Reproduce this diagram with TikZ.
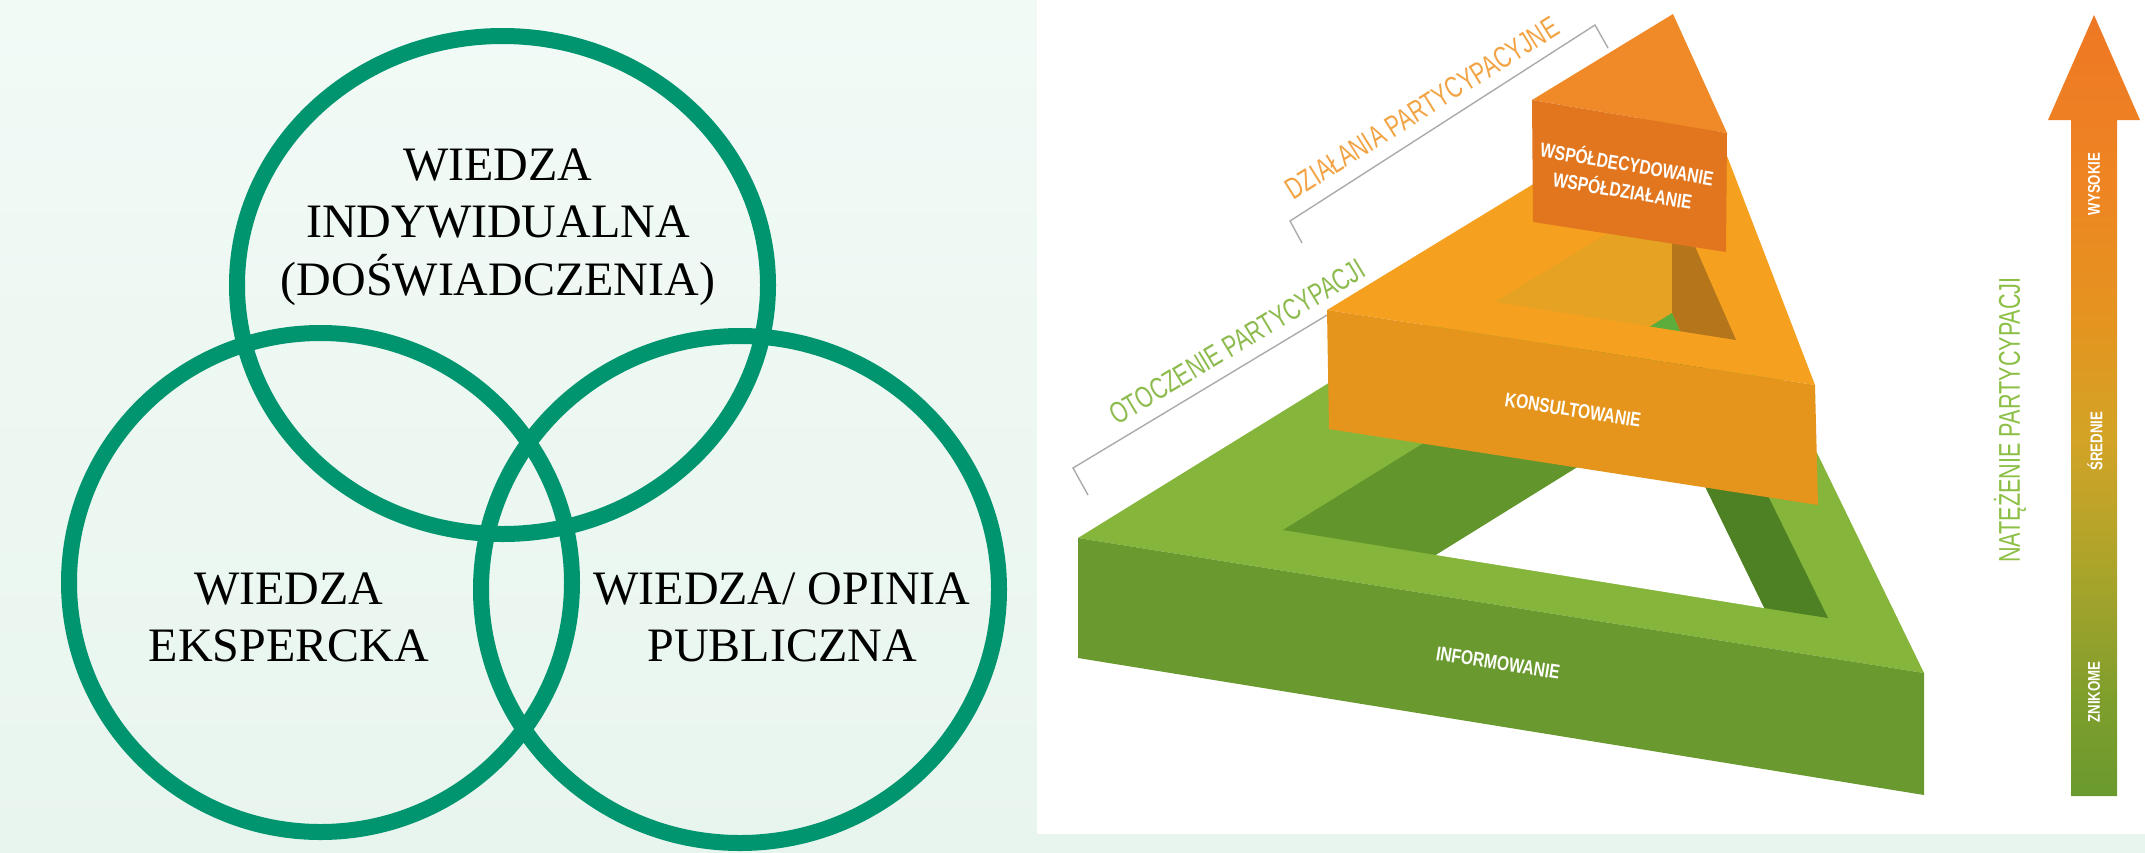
\documentclass[tikz,border=0pt]{standalone}
\usepackage{graphicx}
\usepackage{fontspec}
\setmainfont{Liberation Serif}
\newfontfamily\labf{Liberation Sans}
\newcommand\sqz[2]{\scalebox{#1}[1]{#2}}
\usetikzlibrary{calc}
\definecolor{bgT}{HTML}{F2FAF6}
\definecolor{bgB}{HTML}{E8F5EE}
\definecolor{vennG}{HTML}{00956F}
\definecolor{gTop}{HTML}{85B53B}
\definecolor{gFront}{HTML}{6A9A2F}
\definecolor{gLwall}{HTML}{62962D}
\definecolor{gRwall}{HTML}{4E8024}
\definecolor{oTop}{HTML}{F6A01F}
\definecolor{oFront}{HTML}{E5951C}
\definecolor{oLwall}{HTML}{E6A222}
\definecolor{oRwall}{HTML}{B5761B}
\definecolor{oWedge}{HTML}{5CAE3C}
\definecolor{pTop}{HTML}{F08A28}
\definecolor{pFront}{HTML}{E1761F}
\definecolor{dzOrange}{HTML}{F2A445}
\definecolor{otGreen}{HTML}{8DBB4E}
\definecolor{naGreen}{HTML}{8CBF45}
\definecolor{brkGrey}{HTML}{ABABAB}
\definecolor{arG}{HTML}{6A9A2E}
\definecolor{arGa}{HTML}{7E9E2C}
\definecolor{arOl}{HTML}{ADA42A}
\definecolor{arM}{HTML}{D3A326}
\definecolor{arOa}{HTML}{E39520}
\definecolor{arOb}{HTML}{EE8522}
\definecolor{arOc}{HTML}{EE7824}
\pgfdeclareverticalshading{arrowshade}{100bp}{color(0bp)=(arG); color(25bp)=(arG); color(31bp)=(arGa); color(40bp)=(arOl); color(48bp)=(arM); color(55bp)=(arOa); color(64bp)=(arOb); color(75bp)=(arOc); color(100bp)=(arOc)}
\begin{document}
\begin{tikzpicture}[x=1pt,y=-1pt,
  venn/.style={draw=vennG, line width=16pt},
  venntxt/.style={font=\fontsize{48}{57}\selectfont, text=black, inner sep=0pt, anchor=base},
  lab/.style={font=\labf\fontsize{30}{30}\selectfont, inner sep=0pt},
  wlab/.style={font=\labf\bfseries\fontsize{20}{27}\selectfont, text=white, inner sep=0pt},
  alab/.style={font=\labf\bfseries\fontsize{17}{17}\selectfont, text=white, inner sep=0pt, rotate=90},
  brk/.style={draw=brkGrey, line width=1.4pt}]
\useasboundingbox (0,0) rectangle (2145,852);
% backgrounds
\shade[top color=bgT, bottom color=bgB] (0,0) rectangle (2145,852);
\fill[white] (1037,0) rectangle (2145,834);
% Venn diagram
\draw[venn] (502.5,285) ellipse [x radius=265.5pt, y radius=249pt];
\draw[venn] (320.5,582.5) ellipse [x radius=251.5pt, y radius=249.5pt];
\draw[venn] (740,589.5) ellipse [x radius=259pt, y radius=253.5pt];
\node[venntxt] (ta) at (498,180) {WIEDZA};
\node[venntxt] (tb) at (498,237.5) {INDYWIDUALNA};
\node[venntxt] (tc) at (498,295) {(DOŚWIADCZENIA)};
\node[venntxt] (la) at (289,604) {WIEDZA};
\node[venntxt] (lb) at (289,661.5) {EKSPERCKA};
\node[venntxt] (ra) at (782,604) {WIEDZA/ OPINIA};
\node[venntxt] (rb) at (782,661.5) {PUBLICZNA};
% ---- green ring
\coordinate (A) at (1078,538); \coordinate (B) at (1924,673); \coordinate (C) at (1678,167);
\coordinate (a) at (1283,530); \coordinate (b) at (1828,618); \coordinate (c) at (1668,292);
\coordinate (c1) at (1668,411); \coordinate (P) at (1436,555); \coordinate (R) at (1764,608);
\coordinate (A1) at (1078,658); \coordinate (B1) at (1924,795);
\fill[gTop] (A) -- (B) -- (C) -- cycle;
\fill[gLwall] (a) -- (c) -- (c1) -- (P) -- cycle;
\fill[gRwall] (c) -- (b) -- (R) -- (c1) -- cycle;
\fill[white] (c1) -- (R) -- (P) -- cycle;
\fill[gFront] (A) -- (B) -- (B1) -- (A1) -- cycle;
% ---- brackets and their labels
\coordinate (ot1) at (1073,468); \coordinate (ot1t) at (1088,495); \coordinate (ot2) at (1335,310.3);
\draw[brk] (ot1t) -- (ot1) -- (ot2);
\coordinate (dz1) at (1290,221); \coordinate (dz1t) at (1302,243);
\coordinate (dz2) at (1595,25); \coordinate (dz2t) at (1608,48);
\draw[brk] (dz1t) -- (dz1) -- (dz2) -- (dz2t);
\node[lab, text=otGreen, rotate=31] (otl) at (1237,342) {\sqz{0.72}{OTOCZENIE PARTYCYPACJI}};
\node[lab, text=dzOrange, rotate=32] (dzl) at (1422,108) {\sqz{0.72}{DZIAŁANIA PARTYCYPACYJNE}};
% ---- orange ring
\coordinate (D) at (1327,310); \coordinate (E) at (1815,385); \coordinate (F) at (1699,83);
\coordinate (D1) at (1329,429); \coordinate (E1) at (1818,505);
\coordinate (a2) at (1495,302); \coordinate (b2) at (1736,340); \coordinate (c2) at (1672,194);
\coordinate (c21) at (1672,313); \coordinate (P2) at (1650,326.5); \coordinate (Q2) at (1680,331.2);
\fill[oTop] (D) -- (E) -- (F) -- cycle;
\fill[oLwall] (a2) -- (c2) -- (c21) -- (P2) -- cycle;
\fill[oRwall] (c2) -- (b2) -- (Q2) -- (c21) -- cycle;
\fill[oWedge] (P2) -- (c21) -- (Q2) -- cycle;
\fill[oFront] (D) -- (E) -- (E1) -- (D1) -- cycle;
% ---- top prism
\coordinate (G) at (1673,14); \coordinate (H) at (1532,100); \coordinate (I) at (1727,133);
\coordinate (H1) at (1533,222); \coordinate (I1) at (1726,252);
\fill[pTop] (G) -- (H) -- (I) -- cycle;
\fill[pFront] (H) -- (I) -- (I1) -- (H1) -- cycle;
% ---- level labels
\node[wlab, align=center, rotate=-9.5] (cop) at (1625,176) {\sqz{0.78}{WSPÓŁDECYDOWANIE}\\\sqz{0.78}{WSPÓŁDZIAŁANIE}};
\node[wlab, rotate=-9] (kon) at (1573,410) {\sqz{0.78}{KONSULTOWANIE}};
\node[wlab, rotate=-9] (inf) at (1498,663) {\sqz{0.78}{INFORMOWANIE}};
% ---- arrow
\coordinate (s1) at (2071,796); \coordinate (s2) at (2071,120); \coordinate (h1) at (2048,120);
\coordinate (tip) at (2094,15); \coordinate (h2) at (2140,120); \coordinate (s3) at (2117,120);
\coordinate (s4) at (2117,796);
\shade[shading=arrowshade] (s1) -- (s2) -- (h1) -- (tip) -- (h2) -- (s3) -- (s4) -- cycle;
\node[alab] (wys) at (2094,184) {\sqz{0.78}{WYSOKIE}};
\node[alab] (sre) at (2095,441) {\sqz{0.78}{ŚREDNIE}};
\node[alab] (zni) at (2094,692) {\sqz{0.78}{ZNIKOME}};
\node[lab, text=naGreen, rotate=90] (nat) at (2010,420) {\sqz{0.72}{NATĘŻENIE PARTYCYPACJI}};
\end{tikzpicture}
\end{document}
